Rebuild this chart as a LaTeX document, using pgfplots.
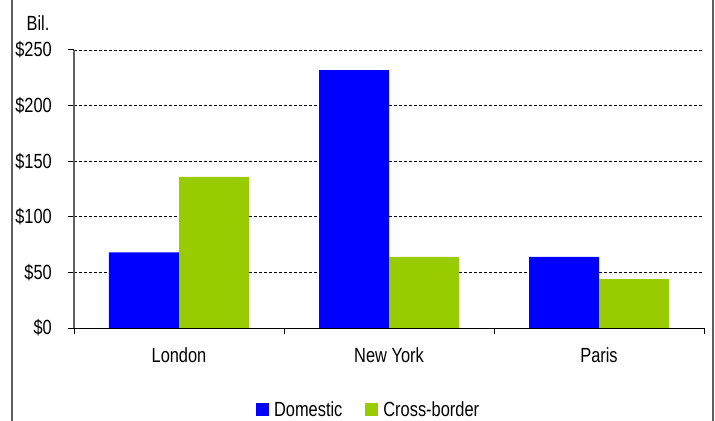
\documentclass[border=0pt]{standalone}
\usepackage{fontspec}
\setmainfont{Liberation Sans}[FakeStretch=0.8]
\usepackage{pgfplots}
\pgfplotsset{compat=1.18}
\definecolor{domblue}{HTML}{0000FF}
\definecolor{crossgreen}{HTML}{99CC00}
\definecolor{framegray}{HTML}{606060}
\begin{document}
\begin{tikzpicture}[font=\fontsize{20.5bp}{24bp}\selectfont]
\useasboundingbox (0,0) rectangle (715bp,421bp);
% outer frame sides
\draw[framegray, line width=1.2bp] (12bp,0) -- (12bp,421bp);
\draw[framegray, line width=1.2bp] (713bp,0) -- (713bp,421bp);
\node[anchor=center, inner sep=0pt] at (38bp,398bp) {Bil.};
\begin{axis}[
  at={(74bp,93bp)}, anchor=south west,
  scale only axis, width=630bp, height=278bp,
  ybar=0pt, bar width=70bp,
  xmin=-0.5, xmax=2.5, ymin=0, ymax=250,
  xtick={0,1,2}, xticklabels={London,New York,Paris},
  minor xtick={-0.5,0.5,1.5,2.5},
  ytick={50,100,150,200,250},
  extra y ticks={0},
  extra y tick style={grid=none},
  yticklabel={\$\pgfmathprintnumber{\tick}},
  /pgf/number format/assume math mode=true,
  axis x line*=bottom, axis y line*=left,
  x axis line style={black, line width=1bp, -},
  y axis line style={framegray, line width=1.3bp, -},
  tick align=outside,
  major tick length=6bp, minor tick length=6bp,
  xtick style={draw=none},
  minor x tick style={draw=black, line width=1bp},
  ytick style={draw=black, line width=1bp},
  ymajorgrids, major grid style={black, line width=0.8bp, dash pattern=on 3bp off 2bp},
  xticklabel style={anchor=north, inner sep=0pt, yshift=-13bp},
  yticklabel style={anchor=east, inner sep=0pt, xshift=-16bp},
  legend columns=2,
  legend style={at={(0.466,-0.293)}, anchor=center, draw=none, fill=none,
    inner sep=0pt, nodes={inner sep=0pt, anchor=west},
    /tikz/every even column/.append style={column sep=23bp}},
  legend image code/.code={\fill[#1] (0bp,-6.5bp) rectangle (13bp,6.5bp);},
  legend cell align=left,
]
\addplot[fill=domblue, draw=none] coordinates {(0,68) (1,232) (2,64)};
\addplot[fill=crossgreen, draw=none] coordinates {(0,136) (1,64) (2,44)};
\legend{\hspace{5bp}Domestic,\hspace{5bp}Cross-border}
\end{axis}
\end{tikzpicture}
\end{document}
